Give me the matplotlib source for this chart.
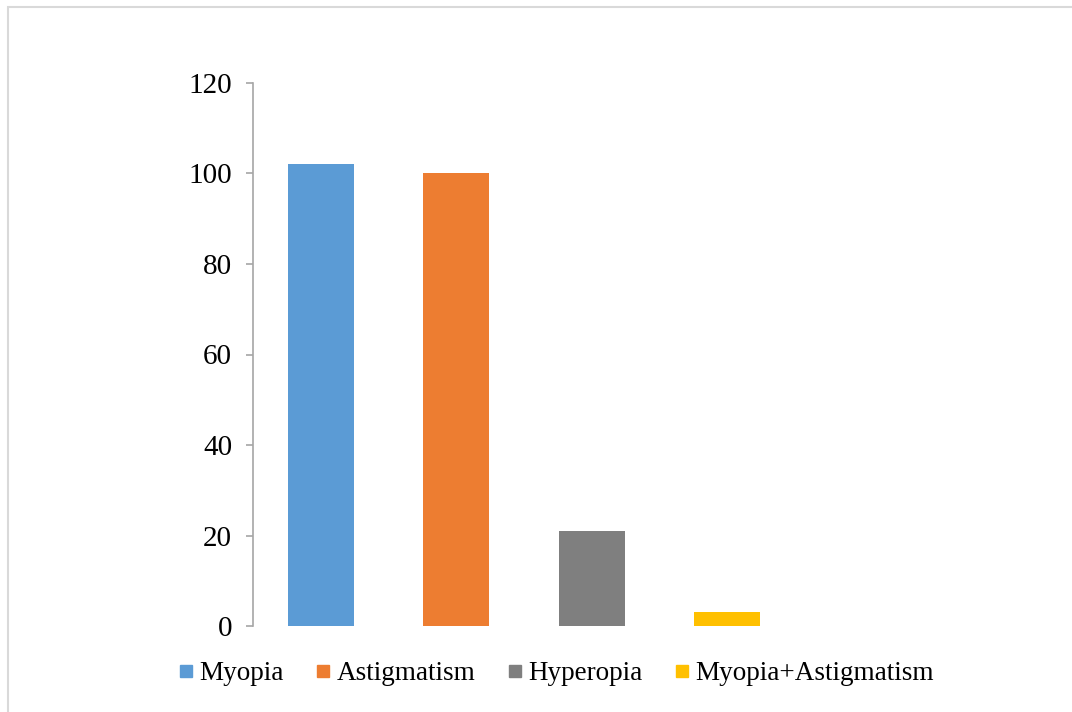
import numpy as np
import matplotlib.pyplot as plt
from matplotlib.patches import Rectangle
from matplotlib.lines import Line2D

# %% Data
categories = ['Myopia', 'Astigmatism', 'Hyperopia', 'Myopia+Astigmatism']
values = [102, 100, 21, 3]
colors = ['#5B9BD5', '#ED7D31', '#7F7F7F', '#FFC000']
yticks = [0, 20, 40, 60, 80, 100, 120]

# %% Plot
plt.rcParams['font.family'] = ['Liberation Serif', 'DejaVu Serif']

fig = plt.figure(figsize=(10.72, 7.12), dpi=100)
ax = fig.add_axes([253/1072, 1-626/712, 542/1072, 543/712])

x = np.arange(len(categories))
ax.bar(x, values, width=0.49, color=colors)

ax.set_xlim(-0.5, 3.5)
ax.set_ylim(0, 120)
ax.set_yticks(yticks)
ax.set_xticks([])
for s in ['top', 'right', 'bottom']:
    ax.spines[s].set_visible(False)
ax.spines['left'].set_color('#a6a6a6')
ax.spines['left'].set_linewidth(1.2)
ax.tick_params(axis='y', length=5, color='#a6a6a6', width=1.2, labelsize=21, pad=10)

# legend
handles = [Line2D([], [], marker='s', linestyle='none', markersize=9,
                  markerfacecolor=c, markeredgecolor=c) for c in colors]
fig.legend(handles, categories, loc='center', bbox_to_anchor=(553/1072, 1-674/712),
           ncol=4, frameon=False, fontsize=19.5, handletextpad=0.0,
           columnspacing=0.95, handlelength=1.0)

# outer border
fig.patches.append(Rectangle((8/1072, -0.1), 1.2, 1.1 - 7/712, transform=fig.transFigure,
                             fill=False, edgecolor='#d9d9d9', linewidth=1.5))

fig.savefig('out.png', dpi=100)
